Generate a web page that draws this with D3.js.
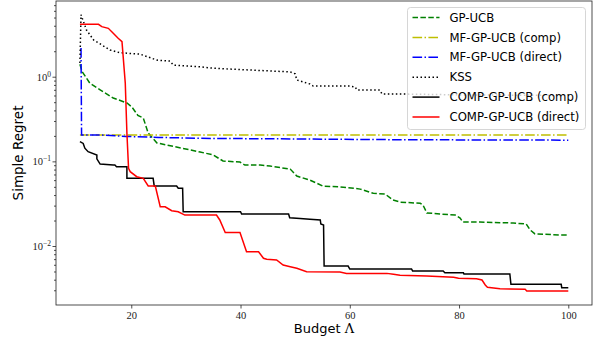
<!DOCTYPE html>
<html>
<head>
<meta charset="utf-8">
<script src="https://cdn.jsdelivr.net/npm/d3@7"></script>
<style>
body{margin:0;background:#fff;}
.canvas{width:598px;height:341px;}
.tick text{font-family:"Liberation Serif",serif;font-size:10.5px;fill:#222;}
.axis path{display:none;}
.axis line{stroke:#222;stroke-width:0.8;}
</style>
</head>
<body>
<div class="canvas" id="canvas"></div>
<script>
// data (budget, simple regret)
var gpX = [10.6,11.0,12.4,14.3,16.7,19.2,20.1,21.2,22.2,23.1,24.7,32.6,35.0,36.8,39.9,40.8,43.6,45.4,49.1,50.3,52.7,55.1,58.2,61.0,61.9,64.3,66.5,67.9,69.2,72.9,73.4,74.1,76.5,79.3,80.2,80.7,83.8,89.9,92.3,93.0,93.9,98.5,100];
var gpY = [1.4,1.15,0.84,0.70,0.56,0.49,0.44,0.35,0.325,0.216,0.165,0.129,0.119,0.101,0.098,0.0905,0.0905,0.088,0.081,0.067,0.060,0.051,0.050,0.048,0.047,0.042,0.041,0.035,0.033,0.032,0.0305,0.0246,0.0239,0.0232,0.0214,0.0192,0.0192,0.0187,0.0182,0.0155,0.0139,0.0135,0.0135];

var mfCompX = [10.6,100];
var mfCompY = [0.205,0.205];

var mfDirX = [10.8,10.9,14.3,19,25,32.6,50,70,100];
var mfDirY = [2.18,0.205,0.205,0.197,0.192,0.187,0.184,0.18,0.178];

var kssX = [10.6,10.8,11.8,13.1,16.1,17.9,21.6,24.7,27.1,27.7,32.6,34.4,38.1,41.7,45.4,49.1,50.0,50.3,52.7,53.3,60.0,61.0,61.3,65.5,65.9,69.2,80,100];
var kssY = [1.45,5.4,3.56,2.72,2.07,1.92,1.85,1.57,1.53,1.37,1.31,1.27,1.23,1.20,1.17,1.14,1.08,0.914,0.82,0.776,0.776,0.755,0.697,0.697,0.625,0.625,0.61,0.6];

var compX = [10.6,11.2,11.5,12.1,13.7,13.7,14.3,16.7,17.0,17.3,19.2,19.2,24.0,24.2,28.3,28.6,29.4,29.5,40.0,40.2,48.8,49.0,50.9,52.7,54.6,54.7,55.2,55.3,59.7,60.0,71.3,71.5,77.1,77.4,80.8,80.9,89.3,89.5,98.7,98.8,100];
var compY = [0.171,0.163,0.143,0.130,0.119,0.107,0.093,0.0905,0.0905,0.0865,0.0865,0.063,0.063,0.0512,0.0512,0.0481,0.0481,0.0254,0.0254,0.0239,0.0239,0.0216,0.0212,0.0207,0.0203,0.0182,0.0177,0.0058,0.0058,0.00535,0.00535,0.00507,0.00507,0.00484,0.00484,0.00467,0.00467,0.00353,0.00353,0.00322,0.00322];

var dirX = [10.6,14.0,14.6,15.8,16.7,17.6,18.3,18.9,19.2,19.5,19.8,21.0,22.2,23.1,24.4,25.3,26.2,27.4,28.6,29.8,35.6,36.2,37.2,39.9,41.1,43.3,44.2,44.8,46.6,47.8,49.1,50.3,52.1,58.2,59.4,66.8,68.0,69.2,74.1,79.0,79.9,83.2,84.2,84.8,85.2,87.5,89.3,92.1,92.4,100];
var dirY = [4.16,4.16,3.90,3.73,3.26,2.84,2.59,0.843,0.216,0.0828,0.0755,0.0659,0.063,0.0512,0.0512,0.0291,0.0291,0.0261,0.0254,0.0232,0.0232,0.0203,0.0144,0.0144,0.00857,0.00857,0.00716,0.00697,0.00684,0.00597,0.00569,0.00545,0.00497,0.00493,0.00475,0.00475,0.00463,0.00451,0.00442,0.00427,0.00415,0.00411,0.00397,0.00346,0.00325,0.00313,0.0031,0.00308,0.00294,0.00294];

var xTicks = [20,40,60,80,100];
var yTicks = [0.01,0.1,1];
var yTickExp = ['\u22122','\u22121','0'];

var series = [
    {name:'GP-UCB', x:gpX, y:gpY, color:'#008000', dash:'5.5,2.4'},
    {name:'MF-GP-UCB (comp)', x:mfCompX, y:mfCompY, color:'#bfbf00', dash:'9.6,2.4,1.5,2.4'},
    {name:'MF-GP-UCB (direct)', x:mfDirX, y:mfDirY, color:'#0000ff', dash:'9.6,2.4,1.5,2.4'},
    {name:'KSS', x:kssX, y:kssY, color:'#000', dash:'1.5,2.5'},
    {name:'COMP-GP-UCB (comp)', x:compX, y:compY, color:'#000', dash:null},
    {name:'COMP-GP-UCB (direct)', x:dirX, y:dirY, color:'#ff0000', dash:null}
];

var m = {t:1,r:6,b:36,l:56},
    w = 598 - m.l - m.r,
    h = 341 - m.t - m.b;

var svg = d3.select('.canvas')
    .append('svg')
    .attr('width', 598)
    .attr('height', 341);

var plot = svg.append('g').attr('class','plot')
    .attr('transform','translate('+ m.l+','+ m.t+')');

var scaleX = d3.scaleLinear().domain([6.22,104.34]).range([0,w]);
var scaleY = d3.scaleLog().domain([0.00201,7.84]).range([h,0]);

// minor ticks on the log axis
var minor = [];
[-3,-2,-1,0].forEach(function(d){
    for(var k=2;k<10;k++){
        var v = k*Math.pow(10,d);
        if(v>0.00201 && v<7.84) minor.push(v);
    }
});

plot.append('g').attr('class','axis')
    .call(d3.axisLeft(scaleY).tickValues(minor).tickSize(2).tickFormat(''));

var yAxis = plot.append('g').attr('class','axis')
    .call(d3.axisLeft(scaleY).tickValues(yTicks).tickSize(3.5).tickPadding(3).tickFormat(''));
yAxis.selectAll('.tick').each(function(d,i){
    var t = d3.select(this).append('text')
        .attr('x',-5).attr('dy','0.32em')
        .attr('text-anchor','end');
    t.append('tspan').text('10');
    t.append('tspan').attr('dy','-4').style('font-size','7.5px').text(yTickExp[i]);
});

plot.append('g').attr('class','axis')
    .attr('transform','translate(0,'+h+')')
    .call(d3.axisBottom(scaleX).tickValues(xTicks).tickSize(3.5).tickPadding(3));

var clip = plot.append('clipPath').attr('id','clip')
    .append('rect').attr('width',w).attr('height',h);

var line = d3.line()
    .x(function(d){return scaleX(d[0]);})
    .y(function(d){return scaleY(d[1]);});

plot.append('g').attr('clip-path','url(#clip)')
    .selectAll('path')
    .data(series)
    .enter()
    .append('path')
    .attr('fill','none')
    .attr('stroke',function(d){return d.color;})
    .attr('stroke-width',1.5)
    .attr('stroke-dasharray',function(d){return d.dash;})
    .attr('d',function(d){
        return line(d.x.map(function(x,i){return [x,d.y[i]];}));
    });

// frame
plot.append('rect')
    .attr('width',w).attr('height',h)
    .attr('fill','none').attr('stroke','#222').attr('stroke-width',0.8);

// legend
var lg = svg.append('g').attr('transform','translate(407.5,7.5)');
lg.append('rect')
    .attr('width',178).attr('height',122).attr('rx',3)
    .attr('fill','#fff').attr('fill-opacity',0.8)
    .attr('stroke','#ccc').attr('stroke-width',0.8);
var item = lg.selectAll('.item')
    .data(series)
    .enter()
    .append('g').attr('class','item')
    .attr('transform',function(d,i){return 'translate(0,'+(10+i*19.9)+')';});
item.append('line')
    .attr('x1',5).attr('x2',32)
    .attr('stroke',function(d){return d.color;})
    .attr('stroke-width',1.5)
    .attr('stroke-dasharray',function(d){return d.dash;});
item.append('text')
    .attr('x',42).attr('dy','0.35em')
    .style('font-family','"DejaVu Sans",sans-serif')
    .style('font-size','11.7px')
    .text(function(d){return d.name;});

// axis labels
var xl = svg.append('text')
    .attr('x', m.l + w/2).attr('y',333)
    .attr('text-anchor','middle')
    .style('font-family','"DejaVu Sans",sans-serif')
    .style('font-size','13px');
xl.append('tspan').text('Budget ');
xl.append('tspan').style('font-family','"DejaVu Serif",serif').text('\u039B');

svg.append('text')
    .attr('transform','translate(23,'+(m.t+h/2)+') rotate(-90)')
    .attr('text-anchor','middle')
    .style('font-family','"DejaVu Sans",sans-serif')
    .style('font-size','13.5px')
    .text('Simple Regret');
</script>
</body>
</html>
